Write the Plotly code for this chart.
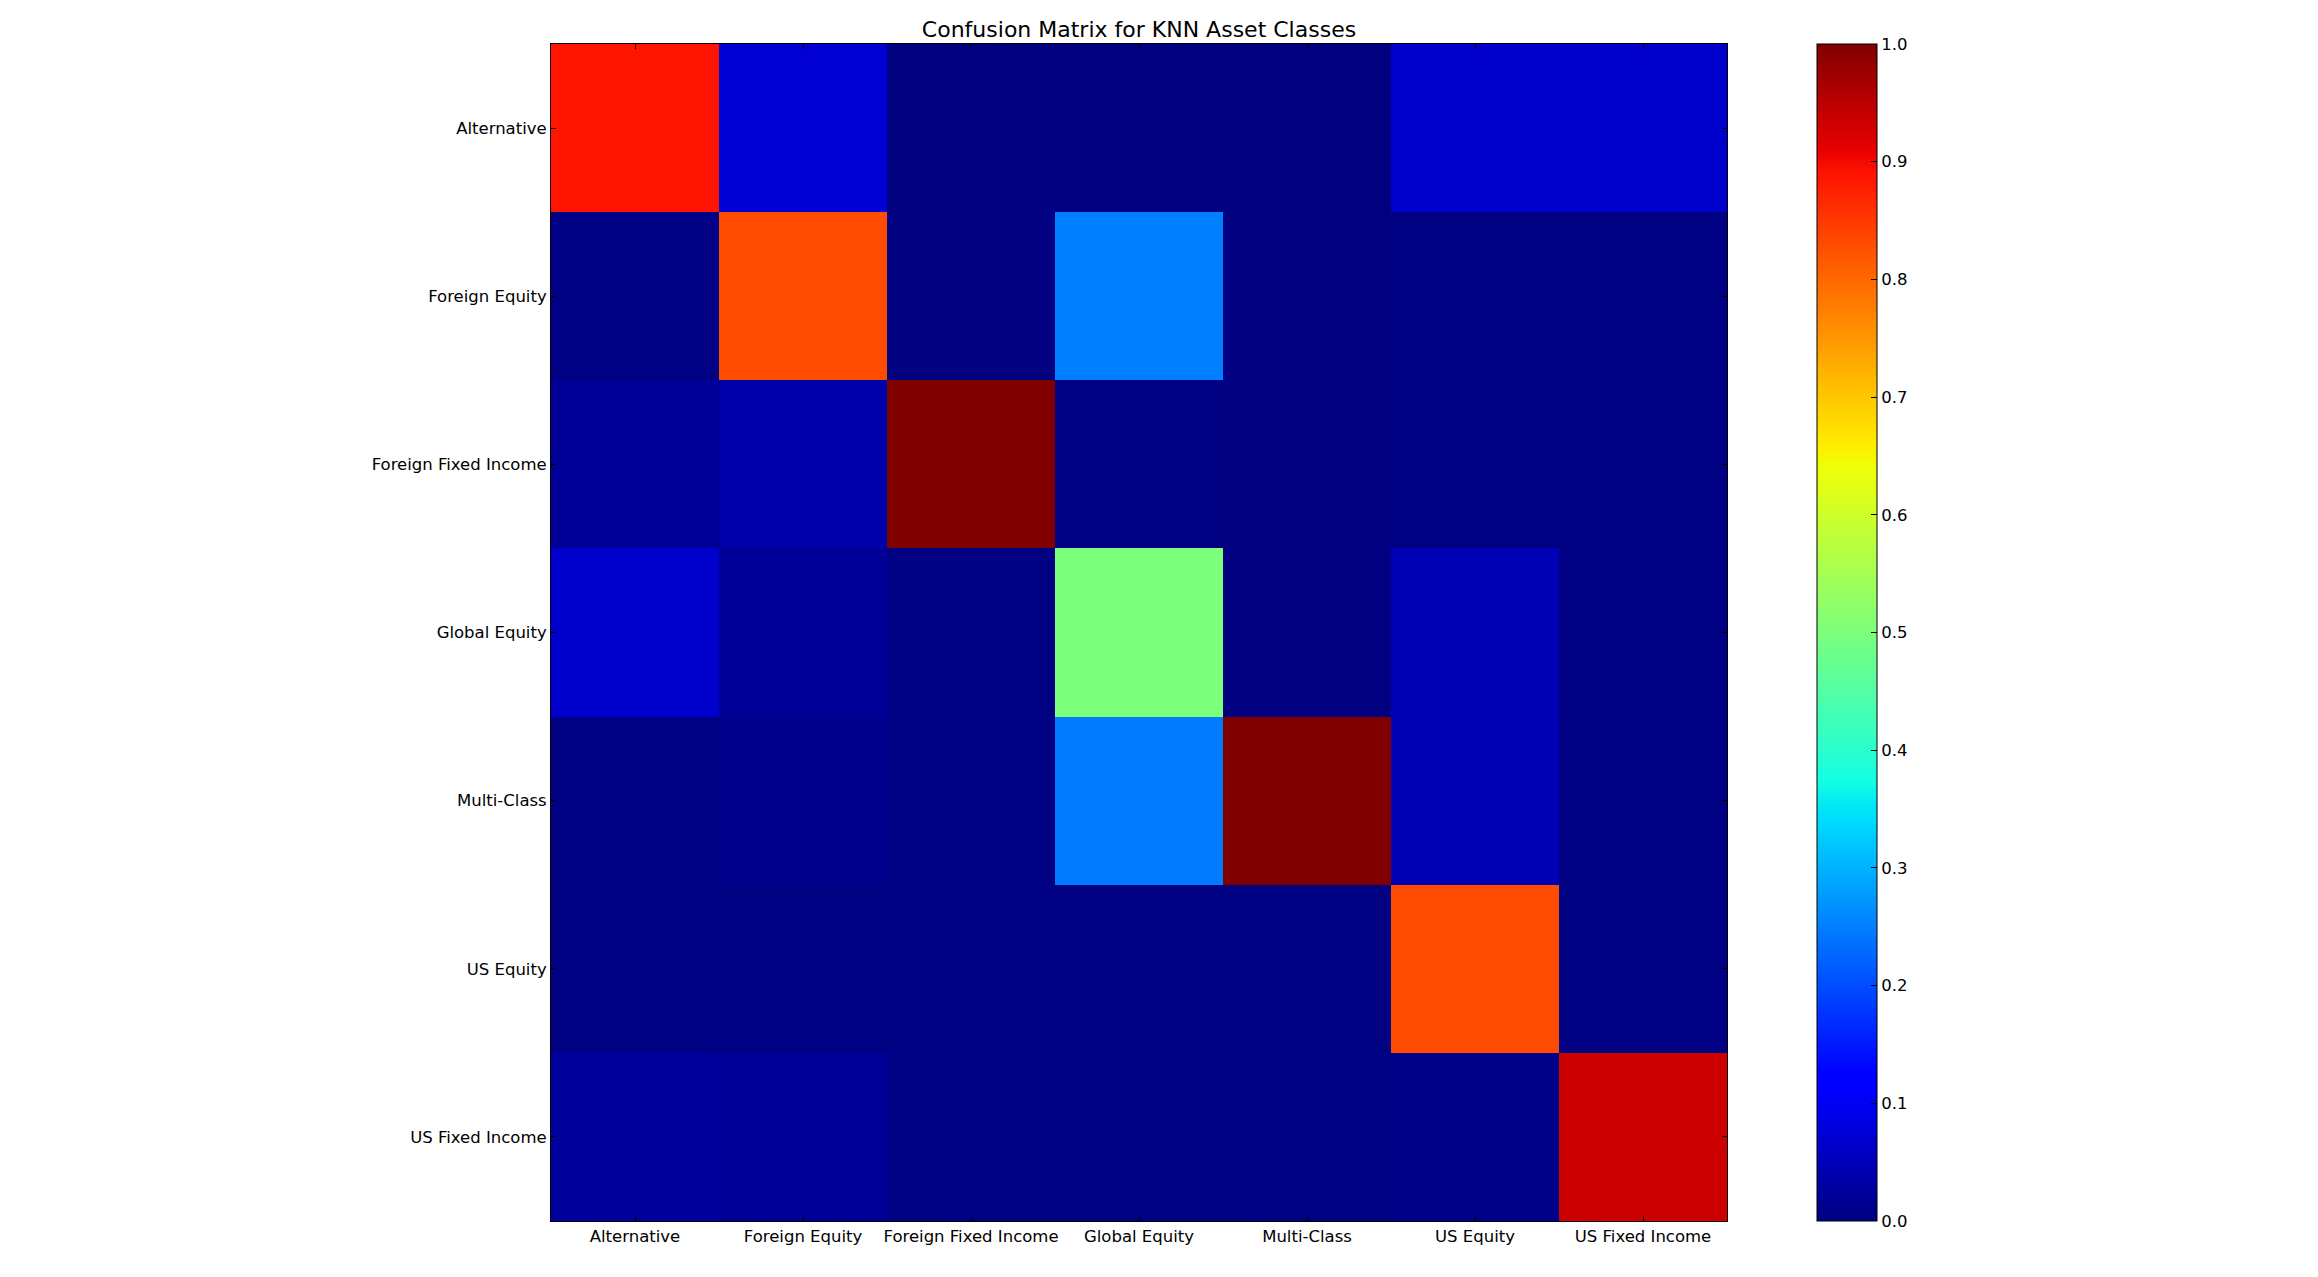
import plotly.graph_objects as go

classes = ["Alternative", "Foreign Equity", "Foreign Fixed Income", "Global Equity",
           "Multi-Class", "US Equity", "US Fixed Income"]

# rows = true class, columns = predicted class
row_alternative = [0.889, 0.074, 0.0, 0.0, 0.0, 0.066, 0.066]
row_foreign_equity = [0.004, 0.830, 0.0, 0.250, 0.0, 0.003, 0.003]
row_foreign_fixed_income = [0.020, 0.037, 1.000, 0.004, 0.0, 0.002, 0.002]
row_global_equity = [0.066, 0.022, 0.002, 0.500, 0.0, 0.045, 0.004]
row_multi_class = [0.002, 0.010, 0.002, 0.245, 1.000, 0.045, 0.002]
row_us_equity = [0.003, 0.003, 0.002, 0.003, 0.002, 0.830, 0.002]
row_us_fixed_income = [0.025, 0.022, 0.004, 0.002, 0.002, 0.008, 0.934]

matrix = [row_alternative, row_foreign_equity, row_foreign_fixed_income,
          row_global_equity, row_multi_class, row_us_equity, row_us_fixed_income]

colorbar_ticks = [0.0, 0.1, 0.2, 0.3, 0.4, 0.5, 0.6, 0.7, 0.8, 0.9, 1.0]

# matplotlib "jet" colormap as piecewise-linear segments
_r = [(0, 0), (0.35, 0), (0.66, 1), (0.89, 1), (1, 0.5)]
_g = [(0, 0), (0.125, 0), (0.375, 1), (0.64, 1), (0.91, 0), (1, 0)]
_b = [(0, 0.5), (0.11, 1), (0.34, 1), (0.65, 0), (1, 0)]


def _interp(seg, v):
    for (x0, y0), (x1, y1) in zip(seg[:-1], seg[1:]):
        if x0 <= v <= x1:
            return y0 + (y1 - y0) * (v - x0) / (x1 - x0) if x1 > x0 else y1
    return seg[-1][1]


stops = sorted(set([p[0] for p in _r + _g + _b]))
jet = [[s, "rgb(%d,%d,%d)" % (round(255 * _interp(_r, s)), round(255 * _interp(_g, s)),
                             round(255 * _interp(_b, s)))] for s in stops]

# page body has an 8px margin, so the figure is offset by 8px
OFF = 8
W, H = 2318 - 2 * OFF, 1277 - 2 * OFF
plot_w, plot_h = 1176, 1177
L, T = 551 - OFF, 44 - OFF
R, B = W - L - plot_w, H - T - plot_h

fig = go.Figure(go.Heatmap(
    z=matrix, x=classes, y=classes,
    colorscale=jet, zmin=0, zmax=1, zsmooth=False,
    colorbar=dict(
        x=(1817 - OFF - L) / plot_w, xanchor="left", xpad=0,
        y=0.5, yanchor="middle", ypad=0, len=1.0, lenmode="fraction",
        thickness=60, thicknessmode="pixels",
        outlinecolor="black", outlinewidth=1,
        tickvals=colorbar_ticks, ticktext=["%.1f" % t for t in colorbar_ticks],
        ticks="inside", ticklen=6, tickcolor="black",
        tickfont=dict(family="DejaVu Sans", size=16.5, color="black"),
    ),
))

axis_common = dict(
    showline=True, linecolor="black", linewidth=1, mirror="ticks",
    ticks="inside", ticklen=5, tickcolor="black", showgrid=False, zeroline=False,
    tickfont=dict(family="DejaVu Sans", size=16.5, color="black"),
)

fig.update_xaxes(**axis_common, type="category", constrain="domain")
fig.update_yaxes(**axis_common, type="category", autorange="reversed")

fig.update_layout(
    width=W, height=H,
    margin=dict(l=L, r=R, t=T, b=B),
    paper_bgcolor="white", plot_bgcolor="white",
    title=dict(text="Confusion Matrix for KNN Asset Classes",
               x=(L + plot_w / 2) / W, xanchor="center",
               y=1 - (29 - OFF) / H, yanchor="middle",
               font=dict(family="DejaVu Sans", size=22, color="black")),
    font=dict(family="DejaVu Sans", color="black"),
)

fig.write_html("out.html")
